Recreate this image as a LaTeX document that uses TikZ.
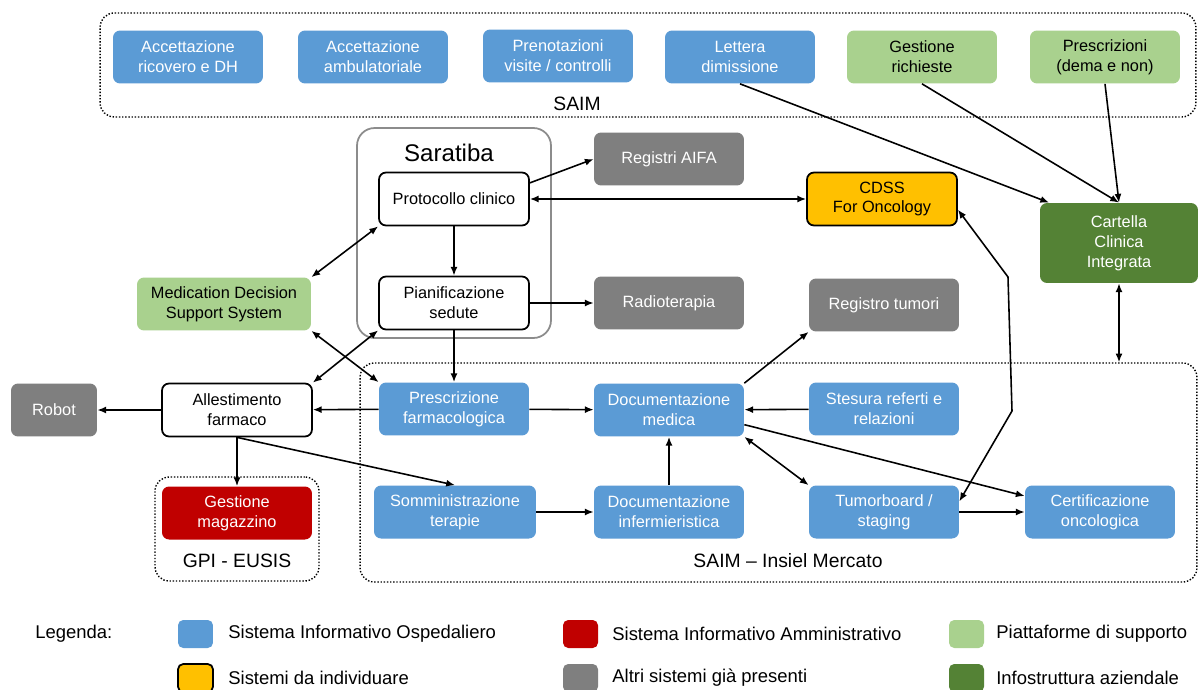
\documentclass[tikz,border=0pt]{standalone}
\usepackage{fontspec}
\setmainfont{Liberation Sans}
\usetikzlibrary{arrows.meta}
\definecolor{hospblue}{RGB}{91,155,213}
\definecolor{adminred}{RGB}{192,0,0}
\definecolor{supgreen}{RGB}{169,209,142}
\definecolor{infgreen}{RGB}{84,130,53}
\definecolor{othergray}{RGB}{127,127,127}
\definecolor{todoyellow}{RGB}{255,192,0}
\begin{document}
\begin{tikzpicture}[x=0.02cm,y=-0.02cm,
    box/.style={rounded corners=4pt,minimum width=3cm,minimum height=1.06cm,align=center,inner sep=1pt,font=\fontsize{9.3}{11.3}\selectfont},
    hosp/.style={box,fill=hospblue,text=white},
    admin/.style={box,fill=adminred,text=white},
    support/.style={box,fill=supgreen},
    infra/.style={box,fill=infgreen,text=white},
    other/.style={box,fill=othergray,text=white},
    todo/.style={box,fill=todoyellow,draw=black,line width=1pt},
    plain/.style={box,fill=white,draw=black,line width=1pt},
    group/.style={draw,densely dotted,line width=0.8pt,rounded corners=8pt,inner sep=0pt},
    grouplabel/.style={font=\fontsize{11}{13}\selectfont},
    legbox/.style={rounded corners=3pt,minimum width=0.7cm,minimum height=0.56cm,inner sep=0pt},
    legtext/.style={anchor=west,inner sep=0pt,font=\fontsize{10.5}{12.5}\selectfont},
    link/.style={line width=0.9pt,-{Latex[length=5pt,width=4pt]}},
    biglink/.style={line width=0.9pt,{Latex[length=5pt,width=4pt]}-{Latex[length=5pt,width=4pt]}},
  ]
  \path[fill=white,use as bounding box] (0,0) rectangle (1198,690);

  % groups
  \node[group,minimum width=21.92cm,minimum height=2.08cm] (saim) at (648,65) {};
  \node[grouplabel] (saimlabel) at (577,104) {SAIM};
  \node[draw=black!45,line width=1pt,rounded corners=10pt,minimum width=3.88cm,minimum height=4.2cm,inner sep=0pt] (saratiba) at (454,233) {};
  \node[font=\fontsize{13.7}{16}\selectfont] (saratibalabel) at (449,153) {Saratiba};
  \node[group,minimum width=3.28cm,minimum height=2.08cm] (gpi) at (237,529) {};
  \node[grouplabel] (gpilabel) at (237,561) {GPI - EUSIS};
  \node[group,minimum width=16.74cm,minimum height=4.38cm] (insiel) at (778.5,472.5) {};
  \node[grouplabel] (insiellabel) at (788,561) {SAIM – Insiel Mercato};

  % top row
  \node[hosp] (ricovero) at (188,57) {Accettazione\\ricovero e DH};
  \node[hosp] (ambulatoriale) at (373,57) {Accettazione\\ambulatoriale};
  \node[hosp] (prenotazioni) at (558,56) {Prenotazioni\\visite / controlli};
  \node[hosp] (lettera) at (740,57) {Lettera\\dimissione};
  \node[support] (richieste) at (922,57) {Gestione\\richieste};
  \node[support] (prescrizioni) at (1105,57) {Prescrizioni\\(dema e non)};

  % middle
  \node[plain] (protocollo) at (454,199) {Protocollo clinico};
  \node[plain] (pianif) at (454,303) {Pianificazione\\sedute};
  \node[other] (aifa) at (669,159) {Registri AIFA};
  \node[other] (radio) at (669,303) {Radioterapia};
  \node[todo] (cdss) at (882,199) {CDSS\\For Oncology};
  \node[other] (registro) at (884,305) {Registro tumori};
  \node[infra,minimum width=3.16cm,minimum height=1.6cm] (cartella) at (1119,243) {Cartella\\Clinica\\Integrata};
  \node[support,minimum width=3.48cm] (mdss) at (224,304) {Medication Decision\\Support System};

  % bottom
  \node[plain] (allest) at (237,410) {Allestimento\\farmaco};
  \node[other,minimum width=1.72cm] (robot) at (54,410) {Robot};
  \node[admin] (magazzino) at (237,513) {Gestione\\magazzino};
  \node[hosp] (prescr) at (454,409) {Prescrizione\\farmacologica};
  \node[hosp] (docmed) at (669,410) {Documentazione\\medica};
  \node[hosp] (stesura) at (884,409) {Stesura referti e\\relazioni};
  \node[hosp,minimum width=3.24cm] (somm) at (455,512) {Somministrazione\\terapie};
  \node[hosp] (docinf) at (669,512) {Documentazione\\infermieristica};
  \node[hosp] (tumor) at (884,512) {Tumorboard /\\staging};
  \node[hosp] (cert) at (1100,512) {Certificazione\\oncologica};

  \coordinate (bendA) at (1008,277);
  \coordinate (bendB) at (1012,411);

  % connectors
  \draw[link] (lettera.south) -- (cartella.150);
  \draw[link] (richieste.south) -- (cartella.north);
  \draw[link] (prescrizioni.south) -- (cartella.north);
  \draw[link] (protocollo.12) -- (aifa.west);
  \draw[biglink] (protocollo.east) -- (cdss.west);
  \draw[link] (protocollo) -- (pianif);
  \draw[link] (pianif) -- (radio);
  \draw[link] (pianif) -- (prescr);
  \draw[biglink] (mdss.north east) -- (protocollo.south west);
  \draw[biglink] (allest.north east) -- (pianif.south west);
  \draw[biglink] (mdss.south east) -- (prescr.north west);
  \draw[link] (prescr) -- (allest);
  \draw[link] (allest) -- (robot);
  \draw[link] (allest) -- (magazzino);
  \draw[link] (allest.south) -- (somm.north);
  \draw[link] (prescr) -- (docmed);
  \draw[link] (stesura) -- (docmed);
  \draw[link] (docinf) -- (docmed);
  \draw[link] (somm) -- (docinf);
  \draw[link] (docmed.north east) -- (registro.south west);
  \draw[biglink] (docmed.south east) -- (tumor.north west);
  \draw[link] (docmed.-11) -- (cert.168);
  \draw[link] (tumor) -- (cert);
  \draw[biglink] (cdss.-8) -- (bendA) -- (bendB) -- (tumor.8);
  \draw[biglink] (cartella.south) -- (cartella.south |- insiel.north);

  % legend
  \node[legtext] (legenda) at (35,634) {Legenda:};
  \node[legbox,fill=hospblue] (leghosp) at (195.5,634) {};
  \node[legtext] (leghosptext) at (228,634) {Sistema Informativo Ospedaliero};
  \node[legbox,fill=adminred] (legadmin) at (580.5,634) {};
  \node[legtext] (legadmintext) at (612,634) {Sistema Informativo Amministrativo};
  \node[legbox,fill=supgreen] (legsupport) at (966.5,634) {};
  \node[legtext] (legsupporttext) at (996,634) {Piattaforme di supporto};
  \node[legbox,fill=todoyellow,draw=black,line width=1pt] (legtodo) at (195.5,678) {};
  \node[legtext] (legtodotext) at (228,678) {Sistemi da individuare};
  \node[legbox,fill=othergray] (legother) at (580.5,678) {};
  \node[legtext] (legothertext) at (612,678) {Altri sistemi già presenti};
  \node[legbox,fill=infgreen] (leginfra) at (966.5,678) {};
  \node[legtext] (leginfratext) at (996,678) {Infostruttura aziendale};
\end{tikzpicture}
\end{document}
